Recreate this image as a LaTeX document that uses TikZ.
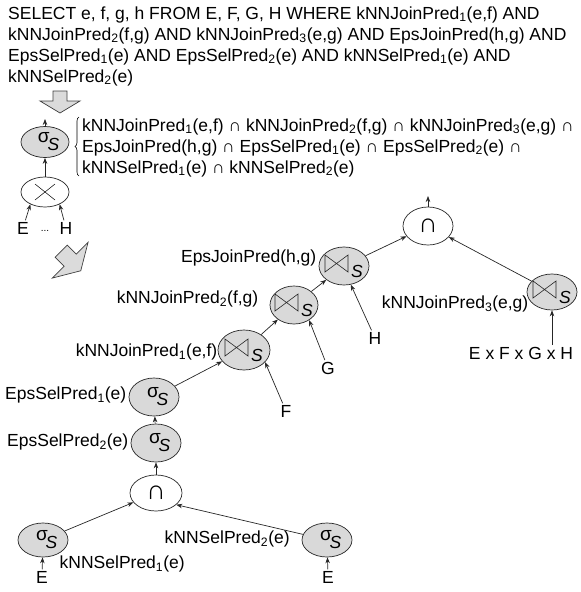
\documentclass[tikz,border=0pt]{standalone}
\usepackage{graphicx}
\usepackage{fontspec}
\setmainfont{Liberation Sans}
\usetikzlibrary{shapes.geometric,arrows.meta,decorations.pathreplacing}
\newcommand{\sbs}[1]{\textsubscript{#1}}
% sigma with subscript S, zero-size box anchored at node centre
\newcommand{\sigS}{\raisebox{0pt}[0pt][0pt]{\makebox[0pt][l]{\hspace{-7pt}{\fontsize{19}{19}\selectfont σ}\hspace{-2pt}\raisebox{-8pt}{\itshape S}}}}
% subscript S of a join symbol (the bowtie itself is drawn by the node style)
\newcommand{\joinS}{\raisebox{0pt}[0pt][0pt]{\makebox[0pt][l]{\hspace{7pt}\raisebox{-11pt}{\itshape S}}}}
\definecolor{nodegray}{gray}{0.85}
\definecolor{arrgray}{gray}{0.86}
\begin{document}
\begin{tikzpicture}[x=1pt,y=-1pt,font=\fontsize{17.5}{21}\selectfont,
  gn/.style={ellipse, draw=black!85, fill=nodegray, line width=0.7pt, inner sep=0pt, minimum width=50pt, minimum height=38pt},
  wn/.style={ellipse, draw=black!85, fill=white, line width=0.7pt, inner sep=0pt, minimum width=50pt, minimum height=38pt},
  capnode/.style={wn, font=\fontsize{27}{27}\selectfont},
  bj/.style={gn, path picture={\draw[line width=0.6pt, black!85] ([shift={(-19,-11)}]path picture bounding box.center) -- ++(0,17) -- ++(23,-17) -- ++(0,17) -- cycle;}},
  lbl/.style={inner sep=1.5pt},
  arr/.style={-{Stealth[length=6pt,width=4.5pt]}, line width=0.7pt, draw=black!85},
  blk/.style={fill=arrgray, draw=black!75, line width=0.7pt}]
\useasboundingbox (0,0) rectangle (581,592);

% header
\node[inner sep=0pt, anchor=north west, align=left] (sql) at (8,6.2) {SELECT e, f, g, h FROM E, F, G, H WHERE kNNJoinPred\sbs{1}(e,f) AND\\
kNNJoinPred\sbs{2}(f,g) AND kNNJoinPred\sbs{3}(e,g) AND EpsJoinPred(h,g) AND\\
EpsSelPred\sbs{1}(e) AND EpsSelPred\sbs{2}(e) AND kNNSelPred\sbs{1}(e) AND\\
kNNSelPred\sbs{2}(e)};

% block arrows
\draw[blk, shift={(60,102)}] (-7,-11) -- (7,-11) -- (7,-1) -- (20,-1) -- (0,11) -- (-20,-1) -- (-7,-1) -- cycle;
\draw[blk, shift={(71,261)}, rotate=45, scale=1.15] (-7.5,-12) -- (7.5,-12) -- (7.5,-1) -- (22,-1) -- (0,12) -- (-22,-1) -- (-7.5,-1) -- cycle;

% top plan
\node[gn, minimum width=48pt, minimum height=31pt] (s0) at (45,142) {\sigS};
\node[wn, minimum width=48pt, minimum height=30pt,
  path picture={\draw[line width=0.6pt, black!85] (path picture bounding box.center) ++(-10,-8) -- ++(20,16) ++(0,-16) -- ++(-20,16);}] (x0) at (45,192) {};
\node[lbl] (e0) at (23,228) {E};
\node[lbl, font=\fontsize{10}{10}\selectfont] (d0) at (45,231) {...};
\node[lbl] (h0) at (66,228) {H};
\coordinate (s0up) at (45,119);
\draw[arr] (s0) -- (s0up);
\draw[arr] (x0) -- (s0);
\draw[arr] (e0) -- (x0.220);
\draw[arr] (h0) -- (x0.320);

\draw[decorate, decoration={brace, amplitude=4pt}, line width=0.6pt] (79,176) -- (79,117);
\node[inner sep=0pt, anchor=north west, align=left] (cond) at (82,118.5) {kNNJoinPred\sbs{1}(e,f) ∩ kNNJoinPred\sbs{2}(f,g) ∩ kNNJoinPred\sbs{3}(e,g) ∩\\
EpsJoinPred(h,g) ∩ EpsSelPred\sbs{1}(e) ∩ EpsSelPred\sbs{2}(e) ∩\\
kNNSelPred\sbs{1}(e) ∩ kNNSelPred\sbs{2}(e)};

% main tree
\node[capnode] (i1) at (428,226) {∩};
\node[bj] (jE) at (344,266) {\joinS};
\node[bj, minimum width=48pt] (j2) at (294,305) {\joinS};
\node[bj, minimum width=52pt, minimum height=40pt] (j1) at (244,350) {\joinS};
\node[bj, minimum height=36pt] (j3) at (552,292) {\joinS};
\node[gn] (s1) at (154,397) {\sigS};
\node[gn] (s2) at (156,443) {\sigS};
\node[capnode, minimum width=52pt, minimum height=36pt] (i2) at (156,493) {∩};
\node[gn, minimum height=34pt] (s3) at (43,540) {\sigS};
\node[gn, minimum height=34pt] (s4) at (327,540) {\sigS};
\node[lbl] (e3) at (42,577) {E};
\node[lbl] (e4) at (328,577) {E};
\node[lbl] (hh) at (375,338) {H};
\node[lbl] (gg) at (328,368) {G};
\node[lbl] (ff) at (286,411) {F};
\node[lbl] (all) at (521,353) {E x F x G x H};
\coordinate (i1up) at (428,196);

\node[lbl, anchor=east] (lEJ) at (318,258) {EpsJoinPred(h,g)};
\node[lbl, anchor=east] (lK2) at (260,299) {kNNJoinPred\sbs{2}(f,g)};
\node[lbl, anchor=east] (lK1) at (219,352) {kNNJoinPred\sbs{1}(e,f)};
\node[lbl, anchor=east] (lES1) at (128,395) {EpsSelPred\sbs{1}(e)};
\node[lbl, anchor=east] (lES2) at (130,442) {EpsSelPred\sbs{2}(e)};
\node[lbl, anchor=east] (lK3) at (530,304) {kNNJoinPred\sbs{3}(e,g)};
\node[lbl, anchor=west] (lKS1) at (58,564) {kNNSelPred\sbs{1}(e)};
\node[lbl, anchor=west] (lKS2) at (163,539) {kNNSelPred\sbs{2}(e)};

\draw[arr] (i1) -- (i1up);
\draw[arr] (jE) -- (i1);
\draw[arr] (j3) -- (i1);
\draw[arr] (all.north -| j3) -- (j3);
\draw[arr] (j2) -- (jE);
\draw[arr] (hh) -- (jE.-70);
\draw[arr] (j1) -- (j2);
\draw[arr] (gg) -- (j2.-45);
\draw[arr] (s1) -- (j1);
\draw[arr] (ff) -- (j1.-30);
\draw[arr] (s2) -- (s1);
\draw[arr] (i2) -- (s2);
\draw[arr] (s3) -- (i2);
\draw[arr] (s4) -- (i2.-30);
\draw[arr] (e3) -- (s3);
\draw[arr] (e4) -- (s4);
\end{tikzpicture}
\end{document}
